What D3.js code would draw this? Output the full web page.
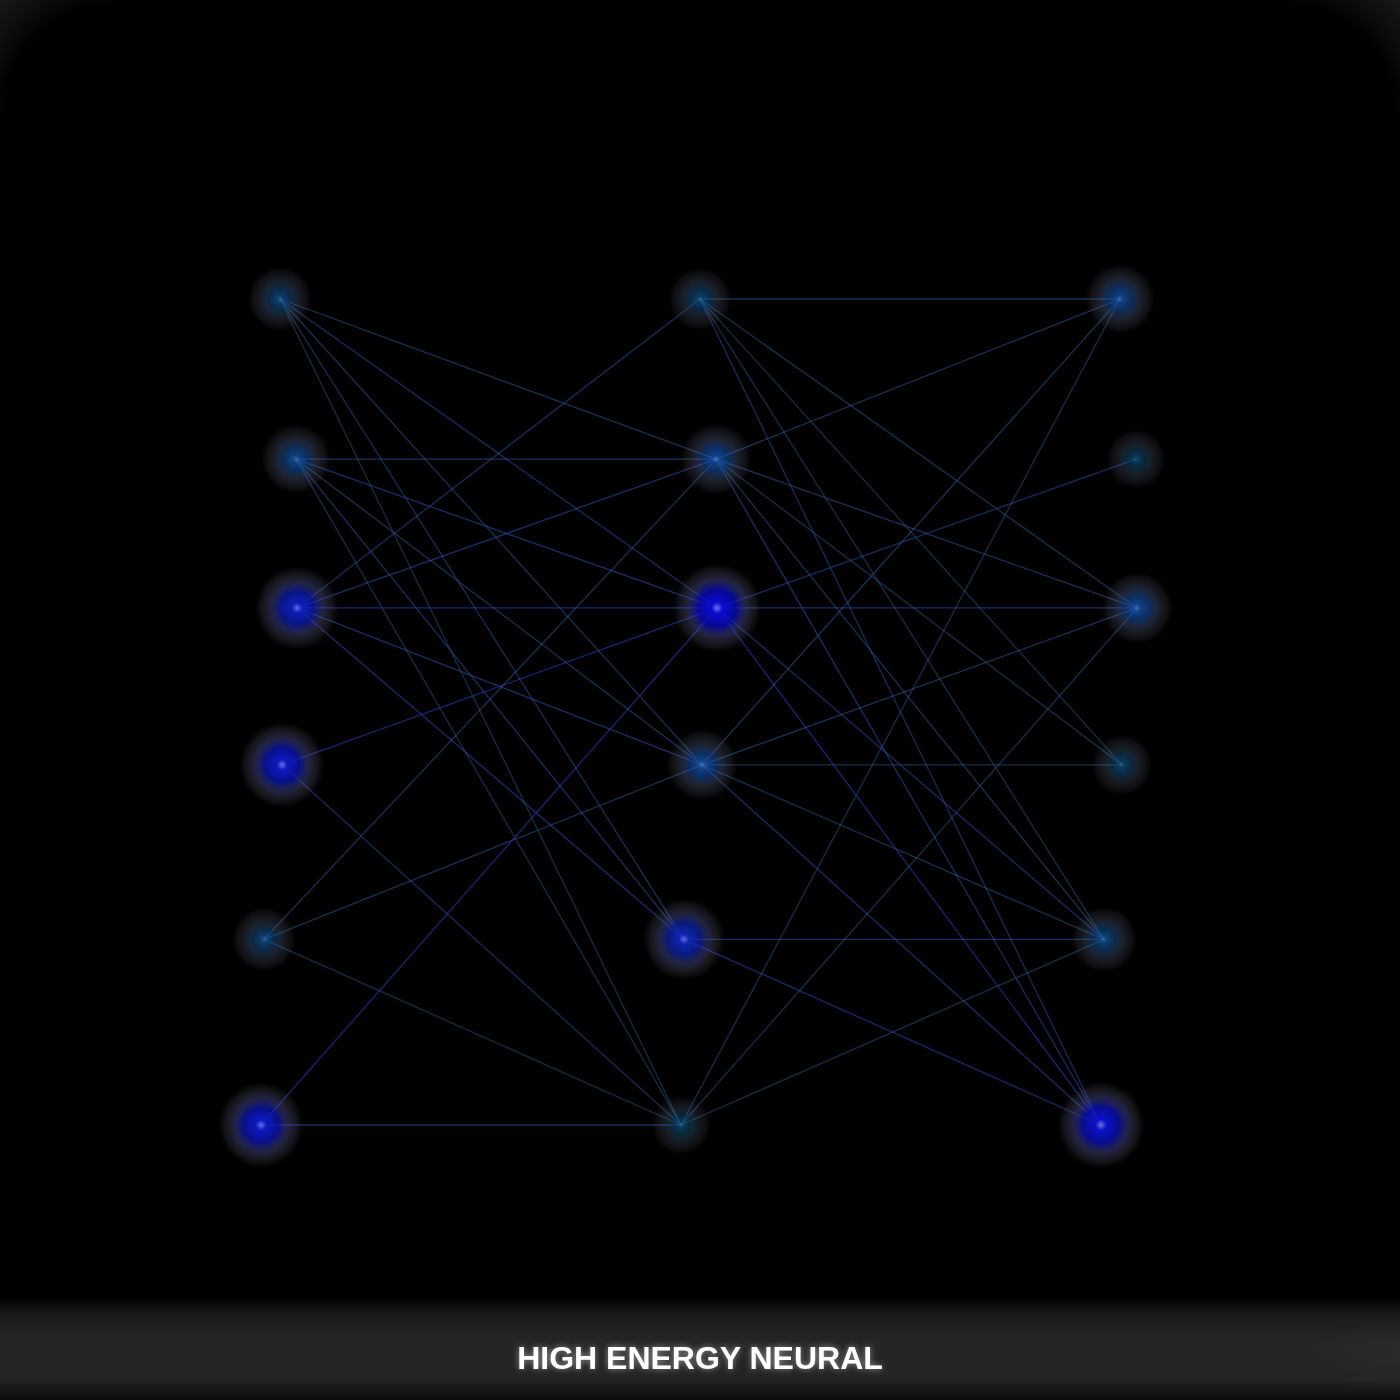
<!DOCTYPE html>
<html>
<head>
<meta charset="utf-8">
<script src="https://cdn.jsdelivr.net/npm/d3@7"></script>
<style>
  html, body { margin: 0; padding: 0; background: #000; overflow: hidden; }
</style>
</head>
<body>
<div id="chart"></div>
<script>
// layers and rows of the network
const layers = ["input", "hidden", "output"];
const rowLevel = [0, 1.0, 1.93, 2.91, 4.0, 5.16];
const rowSway = [0, 0.8, 0.85, 0.1, -0.8, -0.95];

// energy of every neuron (0..1)
const inputEnergy = [0.3, 0.45, 0.85, 0.9, 0.3, 0.9];
const hiddenEnergy = [0.25, 0.5, 1.0, 0.5, 0.8, 0.15];
const outputEnergy = [0.45, 0.15, 0.5, 0.2, 0.35, 0.95];

// connections [fromRow, toRow]
const inputHiddenLinks = [
  [0, 1], [0, 2], [0, 3], [0, 4], [0, 5],
  [1, 1], [1, 2], [1, 3], [1, 4], [1, 5],
  [2, 0], [2, 1], [2, 2], [2, 3], [2, 4],
  [3, 2], [3, 5],
  [4, 1], [4, 3], [4, 5],
  [5, 2], [5, 5]
];
const hiddenOutputLinks = [
  [0, 0], [0, 2], [0, 3], [0, 4], [0, 5],
  [1, 0], [1, 2], [1, 3], [1, 4], [1, 5],
  [2, 1], [2, 2], [2, 4], [2, 5],
  [3, 0], [3, 2], [3, 3], [3, 4], [3, 5],
  [4, 4], [4, 5],
  [5, 0], [5, 2], [5, 4]
];

const title = "HIGH ENERGY NEURAL";

const width = 1400, height = 1400;

const svg = d3.select("#chart")
  .append("svg")
  .attr("viewBox", `0 0 ${width} ${height}`)
  .attr("width", width)
  .attr("height", height);

const defs = svg.append("defs");

// scales
const x = d3.scalePoint().domain(layers).range([280, 1120]);
const y = d3.scaleLinear().domain([0, 5.16]).range([299, 1125]);
const sway = d3.scaleLinear().domain([-1, 1]).range([-20, 20]);
const radius = d3.scaleLinear().domain([0, 1]).range([27, 45]);
const color = d3.scaleLinear()
  .domain([0, 0.5, 1])
  .range(["#0b5870", "#1650a8", "#0b0bd0"])
  .interpolate(d3.interpolateRgb);
const strength = d3.scaleLinear().domain([0, 1]).range([0.6, 1]);

// build nodes
const energies = [inputEnergy, hiddenEnergy, outputEnergy];
const nodes = [];
energies.forEach((arr, li) => {
  arr.forEach((e, r) => {
    nodes.push({
      layer: layers[li], li: li, row: r, energy: e,
      x: x(layers[li]) + sway(rowSway[r]),
      y: y(rowLevel[r])
    });
  });
});
const nodeAt = (li, r) => nodes[li * rowLevel.length + r];

const links = [];
inputHiddenLinks.forEach(([a, b]) => links.push({ s: nodeAt(0, a), t: nodeAt(1, b) }));
hiddenOutputLinks.forEach(([a, b]) => links.push({ s: nodeAt(1, a), t: nodeAt(2, b) }));

// ---------- background ----------
svg.append("rect").attr("width", width).attr("height", height).attr("fill", "#000");

// soft rounded top corners
const cornerGrad = defs.append("radialGradient").attr("id", "corner")
  .attr("gradientUnits", "userSpaceOnUse")
  .attr("cx", 115).attr("cy", 115).attr("r", 165);
[[0, 0], [0.66, 0], [0.8, 0.45], [1, 1]].forEach(([o, a]) =>
  cornerGrad.append("stop").attr("offset", o).attr("stop-color", "#191919").attr("stop-opacity", a));
svg.append("rect").attr("x", 0).attr("y", 0).attr("width", 115).attr("height", 115)
  .attr("fill", "url(#corner)");
svg.append("rect").attr("x", 0).attr("y", 0).attr("width", 115).attr("height", 115)
  .attr("fill", "url(#corner)")
  .attr("transform", `translate(${width},0) scale(-1,1)`);

// bottom title band
const band = defs.append("linearGradient").attr("id", "band")
  .attr("gradientUnits", "userSpaceOnUse")
  .attr("x1", 0).attr("y1", 1296).attr("x2", 0).attr("y2", 1400);
[[0, "#000"], [0.2, "#1b1b1b"], [0.45, "#262626"], [0.8, "#232323"], [1, "#0b0b0b"]]
  .forEach(([o, c]) => band.append("stop").attr("offset", o).attr("stop-color", c));
svg.append("rect").attr("x", 0).attr("y", 1296).attr("width", width).attr("height", 104)
  .attr("fill", "url(#band)");

const sideGlow = defs.append("radialGradient").attr("id", "side");
sideGlow.append("stop").attr("offset", 0).attr("stop-color", "#333").attr("stop-opacity", 0.35);
sideGlow.append("stop").attr("offset", 1).attr("stop-color", "#333").attr("stop-opacity", 0);
svg.append("ellipse").attr("cx", width).attr("cy", 1355).attr("rx", 90).attr("ry", 40)
  .attr("fill", "url(#side)");

// ---------- links ----------
const linkGroup = svg.append("g").attr("class", "links");

links.forEach(l => {
  const c = d3.interpolateRgb(color(l.s.energy), color(l.t.energy))(0.5);
  const stroke = d3.interpolateRgb(c, "#7fb4f0")(0.3);
  const avg = (l.s.energy + l.t.energy) / 2;
  linkGroup.append("line")
    .attr("x1", l.s.x).attr("y1", l.s.y)
    .attr("x2", l.t.x).attr("y2", l.t.y)
    .attr("stroke", stroke)
    .attr("stroke-width", 1.3)
    .attr("stroke-opacity", 0.36 + 0.2 * avg);
});

// ---------- nodes ----------
const nodeGroup = svg.append("g").attr("class", "nodes");

nodes.forEach((n, i) => {
  const c = color(n.energy);
  const k = strength(n.energy);
  const core = 0.28 + 0.14 * n.energy;
  const g = defs.append("radialGradient").attr("id", `node${i}`);
  g.append("stop").attr("offset", 0)
    .attr("stop-color", d3.interpolateRgb(c, "#c0c0ff")(0.2 + 0.35 * n.energy)).attr("stop-opacity", k);
  g.append("stop").attr("offset", core * 0.3).attr("stop-color", c).attr("stop-opacity", k);
  g.append("stop").attr("offset", core).attr("stop-color", c).attr("stop-opacity", 0.7 * k);
  g.append("stop").attr("offset", core + 0.22)
    .attr("stop-color", d3.interpolateRgb(c, "#6a6a80")(0.7)).attr("stop-opacity", 0.45 * k);
  g.append("stop").attr("offset", 0.86).attr("stop-color", "#5c5c6c").attr("stop-opacity", 0.2 * k);
  g.append("stop").attr("offset", 1).attr("stop-color", "#404050").attr("stop-opacity", 0);

  nodeGroup.append("circle")
    .attr("cx", n.x).attr("cy", n.y)
    .attr("r", radius(n.energy))
    .attr("fill", `url(#node${i})`);
});

// ---------- title ----------
const glow = defs.append("filter").attr("id", "glow")
  .attr("x", "-20%").attr("y", "-50%").attr("width", "140%").attr("height", "200%");
glow.append("feGaussianBlur").attr("in", "SourceAlpha").attr("stdDeviation", 3).attr("result", "b");
glow.append("feFlood").attr("flood-color", "#ffffff").attr("flood-opacity", 0.5);
glow.append("feComposite").attr("in2", "b").attr("operator", "in").attr("result", "g");
const merge = glow.append("feMerge");
merge.append("feMergeNode").attr("in", "g");
merge.append("feMergeNode").attr("in", "SourceGraphic");

svg.append("text")
  .attr("x", width / 2)
  .attr("y", 1369)
  .attr("text-anchor", "middle")
  .attr("font-family", "'Liberation Sans', Arial, sans-serif")
  .attr("font-weight", "bold")
  .attr("font-size", "32px")
  .attr("fill", "#ffffff")
  .attr("filter", "url(#glow)")
  .text(title);
</script>
</body>
</html>
